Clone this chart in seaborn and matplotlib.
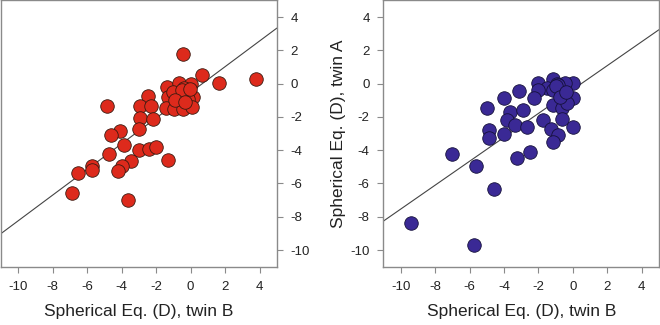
import numpy as np
import pandas as pd
import matplotlib
matplotlib.use("Agg")
import matplotlib.pyplot as plt
import seaborn as sns

# ---- data ----
left_twin_b = [-0.46, 0.66, 1.66, 3.81,
               -1.35, -0.70, 0.02, -0.37, -1.30, -0.66, -0.27, 0.12, -0.17, -1.43, -0.95, -0.46, 0.06,
               -1.05, -0.50, -0.90, -0.35, -0.05,
               -4.87, -2.46, -2.92, -2.30, -2.94, -2.20, -2.98, -4.08, -4.62, -3.85, -4.74, -2.98,
               -2.40, -2.01, -1.33, -3.46, -3.97, -4.24, -5.73, -5.73, -6.52, -6.89, -3.64]
left_twin_a = [1.80, 0.53, 0.02, 0.28,
               -0.20, 0.02, 0.00, -0.26, -0.80, -0.66, -0.66, -0.80, -0.92, -1.46, -1.52, -1.52, -1.40,
               -0.50, -0.40, -1.00, -1.10, -0.30,
               -1.34, -0.72, -1.36, -1.36, -2.08, -2.10, -2.72, -2.82, -3.08, -3.70, -4.20, -3.96,
               -3.92, -3.82, -4.60, -4.62, -4.96, -5.22, -4.96, -5.20, -5.36, -6.56, -6.98]

right_twin_b = [-1.18, -2.01, 0.01, -0.47, -0.95, -1.53, -2.01, -1.14, -0.56, 0.01, -2.26, -3.14,
                -4.01, -5.01, -1.14, -0.66, -0.37, -3.64, -2.91, -3.83, -3.39, -2.64, -1.76, -0.66,
                -0.02, -1.25, -0.85, -1.14, -4.87, -4.87, -4.01, -7.00, -5.63, -3.26, -2.49, -4.61,
                -9.38, -5.74, -0.85, -1.00, -0.75, -0.40]
right_twin_a = [0.28, 0.04, 0.04, 0.06, 0.00, -0.26, -0.36, -0.36, -0.66, -0.86, -0.86, -0.46,
                -0.86, -1.46, -1.26, -1.46, -1.16, -1.72, -1.60, -2.20, -2.50, -2.60, -2.20, -2.12,
                -2.60, -2.72, -3.06, -3.48, -2.80, -3.26, -3.00, -4.22, -4.96, -4.46, -4.10, -6.36,
                -8.36, -9.72, -0.06, -0.12, -0.80, -0.50]

fit_slope = [0.772, 0.719]
fit_intercept = [-0.52, -0.35]

x_ticks = [-10, -8, -6, -4, -2, 0, 2, 4]
y_ticks = [4, 2, 0, -2, -4, -6, -8, -10]
x_label = "Spherical Eq. (D), twin B"
y_label = "Spherical Eq. (D), twin A"
colors = ["#DD2A1C", "#3A2995"]

sns.set_style("white")
plt.rcParams["font.family"] = ["Liberation Sans", "DejaVu Sans"]
plt.rcParams["axes.unicode_minus"] = False

fig = plt.figure(figsize=(6.6, 3.25), dpi=100)
ax1 = fig.add_axes([0.0015, 0.1795, 0.418, 0.819])
ax2 = fig.add_axes([0.581, 0.1795, 0.4175, 0.819])

dfs = [pd.DataFrame({"b": left_twin_b, "a": left_twin_a}),
       pd.DataFrame({"b": right_twin_b, "a": right_twin_a})]

for i, ax in enumerate([ax1, ax2]):
    ax.axline((0, fit_intercept[i]), slope=fit_slope[i], color="#444444", lw=0.8, zorder=1)
    sns.scatterplot(data=dfs[i], x="b", y="a", ax=ax, s=95, color=colors[i],
                    edgecolor="#3a1a10" if i == 0 else "#15103a", linewidth=0.6, zorder=3)
    ax.set_xlim(-11, 5)
    ax.set_ylim(-11, 5)
    ax.set_xticks(x_ticks)
    ax.set_yticks(y_ticks)
    ax.set_xlabel(x_label, fontsize=12.5, color="#222222", labelpad=8)
    ax.set_ylabel("")
    for sp in ax.spines.values():
        sp.set_color("#8a8a8a")
        sp.set_linewidth(1.0)
    ax.tick_params(axis="both", direction="out", length=4, width=0.8, color="#8a8a8a",
                   labelsize=9.5, labelcolor="#222222", pad=6)
    ax.tick_params(axis="x", bottom=True)

ax1.yaxis.tick_right()
ax1.tick_params(axis="y", right=True, left=False)
ax2.tick_params(axis="y", left=True)
ax2.set_ylabel(y_label, fontsize=12.5, color="#222222", labelpad=3)

fig.savefig("out.png", dpi=100)
